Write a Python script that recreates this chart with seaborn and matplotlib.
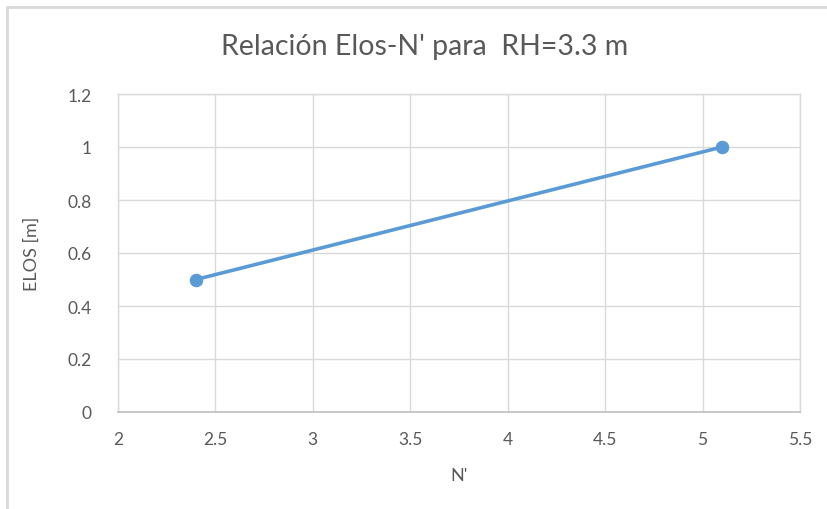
import matplotlib
matplotlib.use("Agg")
import matplotlib.pyplot as plt
import seaborn as sns
import pandas as pd
from matplotlib.patches import Rectangle

# Data: relation between ELOS and N' for RH = 3.3 m
n_prime = [2.4, 5.1]
elos = [0.5, 1.0]
x_ticks = [2, 2.5, 3, 3.5, 4, 4.5, 5, 5.5]
y_ticks = [0, 0.2, 0.4, 0.6, 0.8, 1, 1.2]
x_tick_labels = ["2", "2.5", "3", "3.5", "4", "4.5", "5", "5.5"]
y_tick_labels = ["0", "0.2", "0.4", "0.6", "0.8", "1", "1.2"]

df = pd.DataFrame({"N'": n_prime, "ELOS": elos})

sns.set_theme(style="white")
plt.rcParams["font.family"] = ["Lato", "DejaVu Sans"]

text_color = "#595959"
grid_color = "#D9D9D9"
line_color = "#5B9BD5"

fig = plt.figure(figsize=(8.27, 5.10), dpi=100)
ax = fig.add_axes([118 / 827, 1 - 413 / 510, (800 - 118) / 827, (413 - 95) / 510])

# Chart frame
fig.patches.append(Rectangle((7 / 827, -0.1), 1.2, 1 - 8 / 510 + 0.1,
                             transform=fig.transFigure, fill=False,
                             edgecolor="#D9D9D9", linewidth=2))

sns.lineplot(data=df, x="N'", y="ELOS", ax=ax, color=line_color, linewidth=2.6,
             marker="o", markersize=9, markeredgecolor=line_color,
             markerfacecolor=line_color)

ax.set_xlim(2, 5.5)
ax.set_ylim(0, 1.2)
ax.set_xticks(x_ticks)
ax.set_xticklabels(x_tick_labels)
ax.set_yticks(y_ticks)
ax.set_yticklabels(y_tick_labels)
ax.grid(True, color=grid_color, linewidth=1)
ax.set_axisbelow(True)
for side in ["top", "right", "left"]:
    ax.spines[side].set_color(grid_color)
    ax.spines[side].set_linewidth(1)
ax.spines["bottom"].set_color("#BFBFBF")
ax.spines["bottom"].set_linewidth(1.2)

ax.tick_params(axis="both", length=0, labelsize=12.5, labelcolor=text_color)
ax.tick_params(axis="x", pad=14)
ax.tick_params(axis="y", pad=19)

ax.set_xlabel("N'", fontsize=13, color=text_color, labelpad=14)
ax.set_ylabel("ELOS [m]", fontsize=13, color=text_color, labelpad=20)

fig.text(425 / 827, 1 - 47 / 510, "Relación Elos-N' para  RH=3.3 m",
         ha="center", va="center", fontsize=20.5, color=text_color)

fig.savefig("out.png", dpi=100, facecolor="white")
